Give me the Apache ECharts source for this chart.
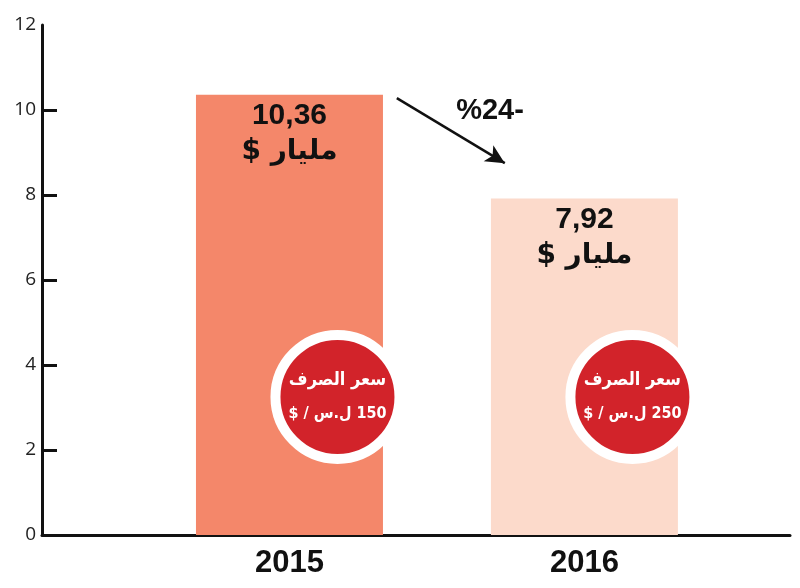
<!DOCTYPE html>
<html>
<head>
<meta charset="utf-8">
<script src="https://cdn.jsdelivr.net/npm/echarts@6/dist/echarts.min.js"></script>
<style>html,body{margin:0;padding:0;background:#fff;}#c{width:800px;height:588px;}</style>
</head>
<body>
<div id="c"></div>
<script>
// ---- data ----
var years = ['2015', '2016'];
var values = [10.36, 7.92];              // مليار $
var rates = [150, 250];                  // سعر الصرف ل.س / $
var changeLabel = '%24-';
var yTicks = [0, 2, 4, 6, 8, 10, 12];
var barColors = ['#F4876A', '#FCDACB'];

// ---- layout helpers ----
var XMIN = 0.161, XMAX = 2.697;
var numFont = "'Liberation Sans', Arial, sans-serif";
var arFont = "'DejaVu Sans', 'Noto Sans', sans-serif";
var arFontC = "'DejaVu Sans Condensed', 'DejaVu Sans', sans-serif";

var barData = values.map(function (v, i) {
  return { value: [i + 1, v], itemStyle: { color: barColors[i] } };
});
var circleData = rates.map(function (r, i) {
  return { value: [i + 1, 3.25], rate: r };
});

var chart = echarts.init(document.getElementById('c'), null, { renderer: 'canvas' });
chart.setOption({
  animation: false,
  backgroundColor: '#ffffff',
  grid: { left: 42, right: 10, top: 25, bottom: 53 },
  xAxis: {
    type: 'value', min: XMIN, max: XMAX,
    splitLine: { show: false },
    axisLine: { show: true, lineStyle: { color: '#111', width: 3 } },
    axisTick: { show: false },
    axisLabel: {
      show: true, customValues: [1, 2], margin: 13,
      formatter: function (v) { var k = Math.round(v) - 1; return years[k] || ''; },
      color: '#111', fontSize: 31, fontWeight: 'bold', fontFamily: numFont
    }
  },
  yAxis: {
    type: 'value', min: 0, max: 12, interval: 2,
    splitLine: { show: false },
    axisLine: { show: true, lineStyle: { color: '#111', width: 3 } },
    axisTick: { show: true, inside: true, length: 15, customValues: [0, 2, 4, 6, 8, 10], lineStyle: { color: '#111', width: 3 } },
    axisLabel: { color: '#222', fontSize: 19, fontFamily: "'Open Sans', sans-serif", margin: 6,
      customValues: yTicks }
  },
  series: [
    {
      type: 'bar',
      data: barData,
      barWidth: 187,
      label: {
        show: true, position: 'insideTop', distance: 4,
        formatter: function (p) {
          return '{a|' + String(p.value[1]).replace('.', ',') + '}\n{b|$ مليار}';
        },
        rich: {
          a: { fontSize: 30, fontWeight: 'bold', fontFamily: numFont, color: '#111', lineHeight: 34 },
          b: { fontSize: 28, fontWeight: 'bold', fontFamily: arFont, color: '#111', lineHeight: 38 }
        }
      },
      markLine: {
        silent: true,
        symbol: ['none', 'arrow'],
        symbolSize: [14, 19],
        label: { show: false },
        lineStyle: { color: '#111', width: 2.5, type: 'solid' },
        data: [[{ coord: [1.364, 10.28] }, { coord: [1.730, 8.75] }]]
      },
      markPoint: {
        silent: true,
        symbol: 'circle', symbolSize: 1,
        itemStyle: { color: 'rgba(0,0,0,0)' },
        label: { show: true, position: 'inside', formatter: changeLabel,
          fontSize: 29, fontWeight: 'bold', fontFamily: numFont, color: '#111' },
        data: [{ coord: [1.68, 9.97] }]
      }
    },
    {
      type: 'scatter',
      data: circleData,
      symbol: 'circle',
      symbolSize: 124,
      symbolOffset: [48, 0],
      itemStyle: { color: '#D2232A', borderColor: '#ffffff', borderWidth: 10, opacity: 1 },
      label: {
        show: true, position: 'inside', overflow: 'none',
        formatter: function (p) {
          return '{t|سعر الصرف}\n{r|$ / ل.س\u200E ' + p.data.rate + '}';
        },
        rich: {
          t: { fontSize: 18, fontWeight: 'bold', fontFamily: arFontC, color: '#fff', lineHeight: 34 },
          r: { fontSize: 16, fontWeight: 'bold', fontFamily: arFontC, color: '#fff', lineHeight: 34 }
        }
      },
      z: 5
    }
  ]
});
</script>
</body>
</html>
